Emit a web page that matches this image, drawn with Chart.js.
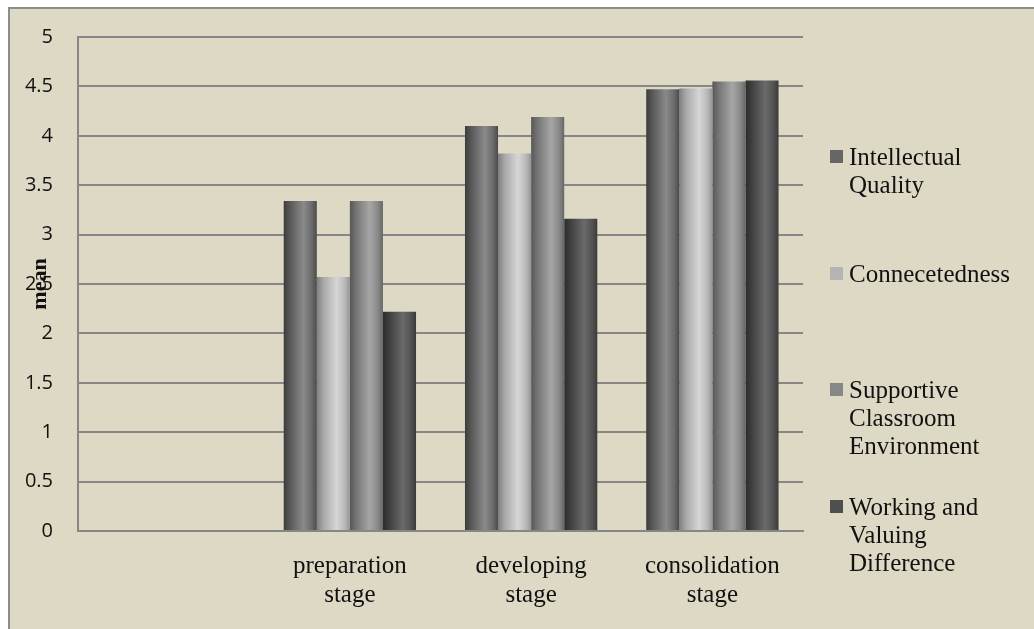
<!DOCTYPE html>
<html>
<head>
<meta charset="utf-8">
<title>mean by stage</title>
<script src="https://cdn.jsdelivr.net/npm/chart.js@4/dist/chart.umd.min.js"></script>
<style>
  body { margin: 0; background: #fff; }
  #frame {
    position: absolute; left: 8px; top: 7px; right: 0; bottom: 0;
    background: #ddd9c4; border-left: 2px solid #8c8c8c; border-top: 2px solid #8c8c8c;
  }
  #chart { position: absolute; left: 0; top: 0; }
  #legend { position: absolute; left: 830px; top: 0; font-family: "Liberation Serif", serif; font-size: 25px; line-height: 28px; color: #111; }
  #legend .item { position: absolute; left: 0; width: 204px; }
  #legend .box { position: absolute; left: 0; top: 7px; width: 13px; height: 13px; }
  #legend .txt { margin-left: 19px; }
</style>
</head>
<body>
<div id="frame"></div>
<canvas id="chart" width="1034" height="629"></canvas>
<div id="legend"></div>
<script>
// Data
const categories = ["", ["preparation", "stage"], ["developing", "stage"], ["consolidation", "stage"]];
const seriesNames = ["Intellectual Quality", "Connecetedness", "Supportive Classroom Environment", "Working and Valuing Difference"];
const legendLines = [["Intellectual", "Quality"], ["Connecetedness"], ["Supportive", "Classroom", "Environment"], ["Working and", "Valuing", "Difference"]];
const intellectualQuality = [null, 3.34, 4.10, 4.47];
const connectedness = [null, 2.57, 3.82, 4.48];
const supportiveEnv = [null, 3.34, 4.19, 4.55];
const workingValuing = [null, 2.22, 3.16, 4.56];
const yTicks = [0, 0.5, 1, 1.5, 2, 2.5, 3, 3.5, 4, 4.5, 5];
const yTickLabels = ["0", "0.5", "1", "1.5", "2", "2.5", "3", "3.5", "4", "4.5", "5"];
const yTitle = "mean";

// Styles
const legendColors = ["#666666", "#b4b4b4", "#878787", "#4f4f4f"];
const gradientStops = [
  ["#3c3c3c", "#5a5a5a", "#8a8a8a", "#6a6a6a", "#4a4a4a"],
  ["#7e7e7e", "#a8a8a8", "#d6d6d6", "#b8b8b8", "#959595"],
  ["#575757", "#767676", "#a6a6a6", "#888888", "#666666"],
  ["#2c2c2c", "#404040", "#6a6a6a", "#525252", "#3a3a3a"]
];
const catPct = 0.73;

function barFill(ctx) {
  const chart = ctx.chart;
  const x = chart.scales.x;
  const stops = gradientStops[ctx.datasetIndex];
  if (!x || !x.width) return legendColors[ctx.datasetIndex];
  const catW = x.width / categories.length;
  const groupW = catW * catPct;
  const barW = groupW / seriesNames.length;
  const left = x.getPixelForValue(ctx.dataIndex) - groupW / 2 + ctx.datasetIndex * barW;
  const g = chart.ctx.createLinearGradient(left, 0, left + barW, 0);
  g.addColorStop(0, stops[0]);
  g.addColorStop(0.2, stops[1]);
  g.addColorStop(0.6, stops[2]);
  g.addColorStop(0.85, stops[3]);
  g.addColorStop(1, stops[4]);
  return g;
}

const allSeries = [intellectualQuality, connectedness, supportiveEnv, workingValuing];

new Chart(document.getElementById("chart"), {
  type: "bar",
  data: {
    labels: categories,
    datasets: allSeries.map((d, i) => ({
      label: seriesNames[i],
      data: d,
      backgroundColor: barFill,
      borderWidth: 0,
      categoryPercentage: catPct,
      barPercentage: 1
    }))
  },
  options: {
    responsive: false,
    animation: false,
    layout: { padding: { top: 34, right: 231, left: 0, bottom: 0 } },
    plugins: { legend: { display: false }, tooltip: { enabled: false } },
    scales: {
      x: {
        grid: { display: false },
        border: { display: true, color: "#878787", width: 2 },
        ticks: {
          color: "#111",
          font: { family: "Liberation Serif", size: 25, lineHeight: 1.15 },
          padding: 13,
          maxRotation: 0
        },
        afterFit: s => { s.height = 98; }
      },
      y: {
        min: 0,
        max: 5,
        afterBuildTicks: s => { s.ticks = yTicks.map(v => ({ value: v })); },
        grid: { color: "#878787", lineWidth: 2, drawTicks: false },
        border: { display: true, color: "#878787", width: 2 },
        ticks: {
          color: "#111",
          font: { family: "Open Sans", size: 20 },
          padding: 25,
          callback: (v, i) => yTickLabels[i]
        },
        title: {
          display: true,
          text: yTitle,
          color: "#111",
          font: { family: "Liberation Serif", size: 22, weight: "bold" },
          padding: { top: 27, bottom: 0 }
        },
        afterFit: s => { s.width = 78; }
      }
    }
  }
});

// Legend
const legend = document.getElementById("legend");
seriesNames.forEach((name, i) => {
  const item = document.createElement("div");
  item.className = "item";
  item.style.top = (143 + i * 116.5) + "px";
  item.innerHTML = '<span class="box" style="background:' + legendColors[i] + '"></span>' +
    '<div class="txt">' + legendLines[i].join("<br>") + '</div>';
  legend.appendChild(item);
});
</script>
</body>
</html>
